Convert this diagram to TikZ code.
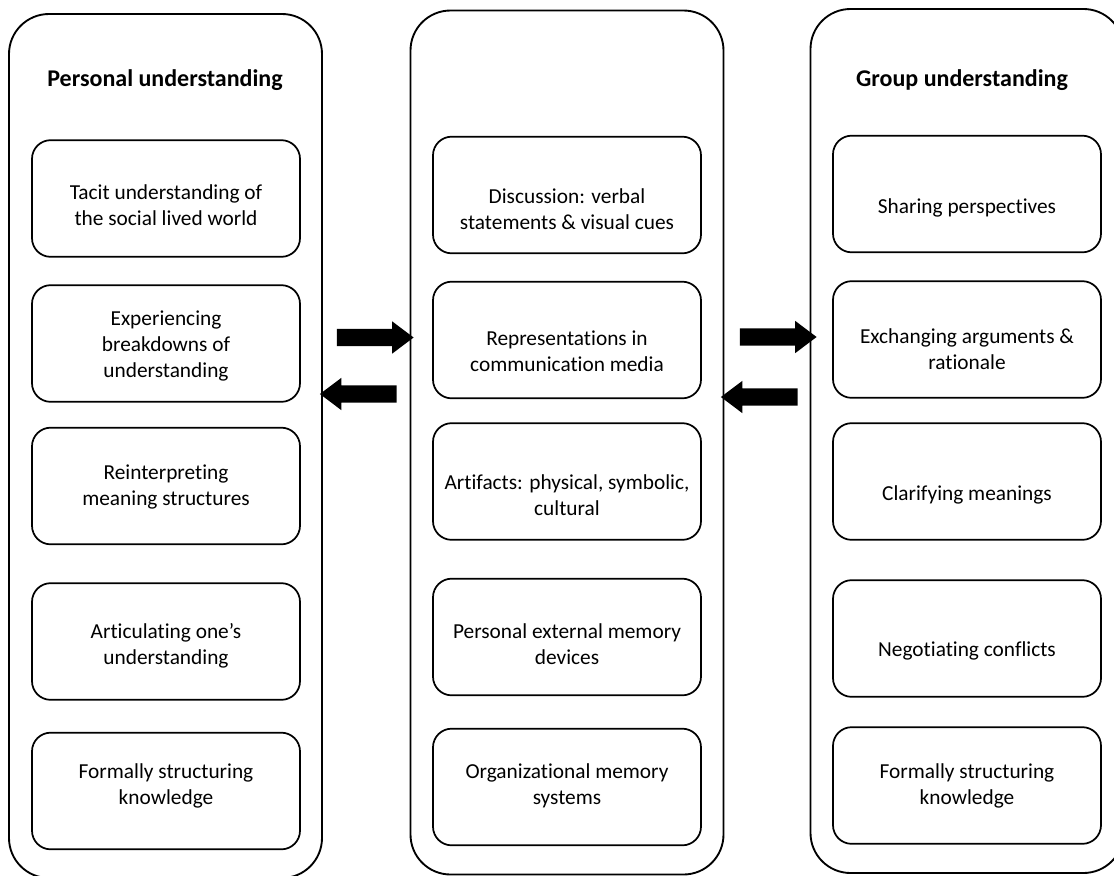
\documentclass[tikz,border=0pt]{standalone}
\usepackage{fontspec}
\setmainfont[Ligatures={NoCommon,NoContextual}]{Carlito}
\usetikzlibrary{shapes.arrows, positioning}

\begin{document}
\begin{tikzpicture}[x=0.75pt, y=-0.75pt,
        column/.style = {draw, line width=1.4pt, rounded corners=30pt, minimum width=234.75pt, minimum height=648pt},
        item/.style = {draw, line width=1.3pt, rounded corners=14pt, minimum width=201pt, minimum height=87.5pt},
        label/.style = {align=center, font=\fontsize{16}{19.5}\selectfont},
        title/.style = {font=\bfseries\fontsize{18}{21}\selectfont},
        fatarrow/.style = {single arrow, fill=black, draw=none, inner xsep=0pt, inner ysep=6.3pt,
                           single arrow head extend=5.6pt, single arrow tip angle=74, minimum height=57.5pt}]
    \useasboundingbox (0,0) rectangle (1114,875);
    \clip (0,0) rectangle (1114,875);

    % the three columns
    \node[column] (personal) at (165.5,446) {};
    \node[column] (media) at (567,442.5) {};
    \node[column] (group) at (967,441) {};

    \node[title] (personalT) at (165,80) {Personal understanding};
    \node[title] (groupT) at (962,80) {Group understanding};

    % personal understanding
    \foreach \y/\dy/\txt [count=\i] in {198.5/7/{Tacit understanding of\\the social lived world},
                                        343.5/2/{Experiencing\\breakdowns of\\understanding},
                                        486/1/{Reinterpreting\\meaning structures},
                                        641.5/4/{Articulating one’s\\understanding},
                                        791/-5/{Formally structuring\\knowledge}}{
        \node[item] (P\i) at (166,\y) {};
        \node[label] (Pt\i) at (166,\y+\dy) {\txt};
    }

    % media in between
    \foreach \y/\dy/\txt [count=\i] in {195/14/{Discussion: verbal\\statements \& visual cues},
                                        340/11/{Representations in\\communication media},
                                        481.5/14/{Artifacts: physical, symbolic,\\cultural},
                                        637/7/{Personal external memory\\devices},
                                        787/-1/{Organizational memory\\systems}}{
        \node[item] (M\i) at (567,\y) {};
        \node[label] (Mt\i) at (567,\y+\dy) {\txt};
    }

    % group understanding
    \foreach \y/\dy/\txt [count=\i] in {194/14/{Sharing perspectives},
                                        339.5/10/{Exchanging arguments \&\\rationale},
                                        481.5/13/{Clarifying meanings},
                                        638.5/12/{Negotiating conflicts},
                                        785.5/0/{Formally structuring\\knowledge}}{
        \node[item] (G\i) at (967,\y) {};
        \node[label] (Gt\i) at (967,\y+\dy) {\txt};
    }

    % block arrows between the columns
    \node[fatarrow] (toMedia) at (369.5,337.5) {};
    \node[fatarrow, shape border rotate=180] (toPersonal) at (364,394) {};
    \node[fatarrow] (toGroup) at (772.5,337) {};
    \node[fatarrow, shape border rotate=180] (fromGroup) at (765,397) {};
\end{tikzpicture}
\end{document}
